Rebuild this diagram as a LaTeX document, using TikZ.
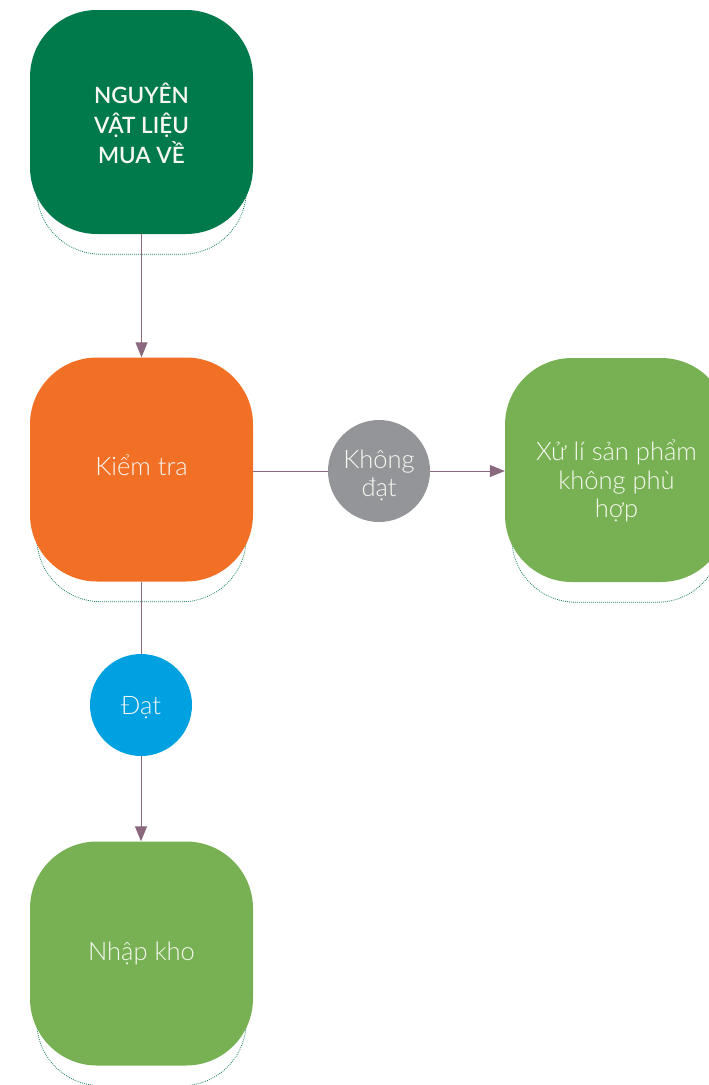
\documentclass[tikz,border=0pt]{standalone}
\usepackage{fontspec}
\setmainfont{Lato}[UprightFont=* Light, BoldFont=* Semibold]
\usetikzlibrary{arrows.meta,backgrounds}
\definecolor{dkgreen}{RGB}{0,122,74}
\definecolor{orng}{RGB}{242,111,38}
\definecolor{ltgreen}{RGB}{119,177,83}
\definecolor{gry}{RGB}{147,149,152}
\definecolor{blu}{RGB}{0,161,224}
\definecolor{connc}{RGB}{138,104,126}
\definecolor{dotc}{RGB}{30,130,95}
\definecolor{txtc}{RGB}{248,248,242}
\newcommand{\lowtext}[2]{\raisebox{#1}[\height][\depth]{\begin{tabular}{@{}c@{}}#2\end{tabular}}}
\tikzset{
  x=1pt, y=1pt,
  box/.style={rectangle, rounded corners=67pt, minimum width=223pt, minimum height=224pt,
    inner sep=0pt, align=center, text=txtc, font=\fontsize{25.5}{28.5}\selectfont},
  circ/.style={circle, minimum size=102pt, inner sep=0pt, align=center, text=txtc,
    font=\fontsize{25.5}{28}\selectfont},
  conn/.style={draw=connc, line width=1pt},
  arr/.style={conn, -{Triangle[width=12pt,length=15pt]}},
  shadowline/.style={draw=dotc, line width=0.8pt, dash pattern=on 0.9pt off 1.1pt, rounded corners=64pt}
}
\begin{document}
\begin{tikzpicture}
\useasboundingbox (0,0) rectangle (709,-1085);
\clip (0,0) rectangle (709,-1085);
\node[box, fill=dkgreen, font=\bfseries\fontsize{22.5}{29}\selectfont] (n1) at (141.5,-122) {\lowtext{-6pt}{NGUYÊN\\VẬT LIỆU\\MUA VỀ}};
\node[box, fill=orng] (n2) at (141.5,-469.5) {\lowtext{0pt}{Kiểm tra}};
\node[box, fill=ltgreen] (n3) at (616.5,-470) {\lowtext{-13pt}{Xử lí sản phẩm\\không phù\\hợp}};
\node[box, fill=ltgreen] (n4) at (141.5,-953.5) {Nhập kho};
\node[circ, fill=gry] (c1) at (379,-471) {\lowtext{-6pt}{Không\\đạt}};
\node[circ, fill=blu] (c2) at (141,-705) {\lowtext{-4pt}{Đạt}};
\begin{scope}[on background layer]
  \foreach \n in {n1,n2,n3,n4}{
    \draw[shadowline] ([xshift=7pt,yshift=-20pt]\n.north west) rectangle ([xshift=-7pt,yshift=-20pt]\n.south east);
  }
\end{scope}
\draw[arr] (n1) -- (n2);
\draw[conn] (n2.east |- c1) -- (c1);
\draw[arr] (c1) -- (n3.west |- c1);
\draw[conn] (n2.south -| c2) -- (c2);
\draw[arr] (c2) -- (n4.north -| c2);
\end{tikzpicture}
\end{document}
